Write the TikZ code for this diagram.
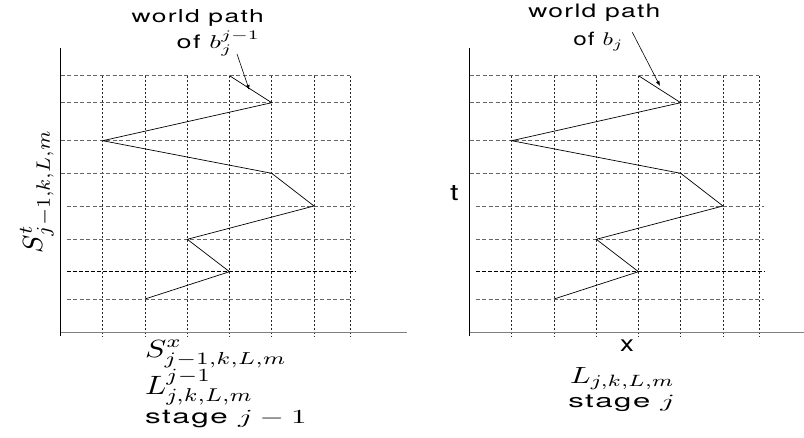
\documentclass[tikz,border=0pt]{standalone}
\usepackage{graphicx}
\usepackage{fontspec}
\setmainfont{TeX Gyre Heros}[LetterSpace=5]
\usetikzlibrary{arrows.meta}
\newcommand{\fitlbl}[3]{\resizebox{#1pt}{#2pt}{#3}}
\begin{document}
\begin{tikzpicture}[x=1pt,y=-1pt,
  gridv/.style={draw=black!85,line width=0.7pt,dash pattern=on 2.5pt off 1.5pt},
  gridh/.style={draw=black!60,line width=0.7pt,dash pattern=on 4pt off 2.5pt},
  gridthick/.style={draw=black,line width=1.5pt,dash pattern=on 4pt off 2pt},
  axisv/.style={draw=black,line width=1.1pt},
  axish/.style={draw=black!50,line width=1.3pt},
  wpath/.style={draw=black,line width=0.7pt,line join=miter},
  pointer/.style={draw=black,line width=0.6pt,-{Latex[length=5pt,width=4pt]}},
  lbl/.style={inner sep=0pt,outer sep=0pt,anchor=base west}]
\useasboundingbox (0,0) rectangle (804,437);
\foreach \dx/\p/\axend in {0/L/407,409/R/395}{
  \begin{scope}[xshift=\dx pt]
    \foreach \x in {102.7,145,187.3,229.5,271.7,314,350}
      \draw[gridv] (\x,75.7) -- (\x,336);
    \foreach \y in {75.7,102.7,140.7,173.3}
      \draw[gridh] (60.5,\y) -- (350,\y);
    \foreach \y in {206,239.3,299}
      \draw[gridh] (66.7,\y) -- (355,\y);
    \draw[gridthick] (66.7,271.7) -- (355,271.7);
    \draw[axish] (60.5,332.3) -- (\axend,332.3);
    \draw[axisv] (60.5,48.3) -- (60.5,336);
    \coordinate (p1\p) at (145,299);
    \coordinate (p2\p) at (229.5,271.7);
    \coordinate (p3\p) at (187.3,239.3);
    \coordinate (p4\p) at (314,206);
    \coordinate (p5\p) at (271.7,173.3);
    \coordinate (p6\p) at (102.7,140.7);
    \coordinate (p7\p) at (271.7,102.7);
    \coordinate (p8\p) at (229.5,75.7);
    \draw[wpath] (p1\p) -- (p2\p) -- (p3\p) -- (p4\p) -- (p5\p) -- (p6\p) -- (p7\p) -- (p8\p);
  \end{scope}
}
% pointers
\coordinate (aLs) at (237,54);
\coordinate (aLe) at (249.3,90);
\draw[pointer] (aLs) -- (aLe);
\coordinate (aRs) at (632.3,32.3);
\coordinate (aRe) at (660,86);
\draw[pointer] (aRs) -- (aRe);
% labels left
\node[lbl] (wpL) at (131.7,22) {\fitlbl{132}{13}{world path}};
\node[lbl] (ofL) at (176.7,48.3) {\fitlbl{83.3}{17.5}{of $b_j^{j-1}$}};
\node[lbl,rotate=90] (stL) at (42,253) {\fitlbl{123}{22}{$S^t_{j-1,k,L,m}$}};
\node[lbl] (sxL) at (145,357) {\fitlbl{142}{17}{$S^x_{j-1,k,L,m}$}};
\node[lbl] (lL) at (145,394) {\fitlbl{108.3}{25}{$L^{j-1}_{j,k,L,m}$}};
\node[lbl] (stgL) at (145,423.3) {\fitlbl{161.7}{13.3}{stage $j-1$}};
% labels right
\node[lbl] (wpR) at (528.3,17.8) {\fitlbl{132}{13.5}{world path}};
\node[lbl] (ofR) at (573.3,45.3) {\fitlbl{50}{13.4}{of $b_j$}};
\node[lbl] (tR) at (450,200) {\fitlbl{8.5}{15}{t}};
\node[lbl] (xR) at (620,351.7) {\fitlbl{13.8}{11.7}{x}};
\node[lbl] (lR) at (570,383) {\fitlbl{105}{16}{$L_{j,k,L,m}$}};
\node[lbl] (stgR) at (568.3,407) {\fitlbl{106.7}{12.5}{stage $j$}};
\end{tikzpicture}
\end{document}
